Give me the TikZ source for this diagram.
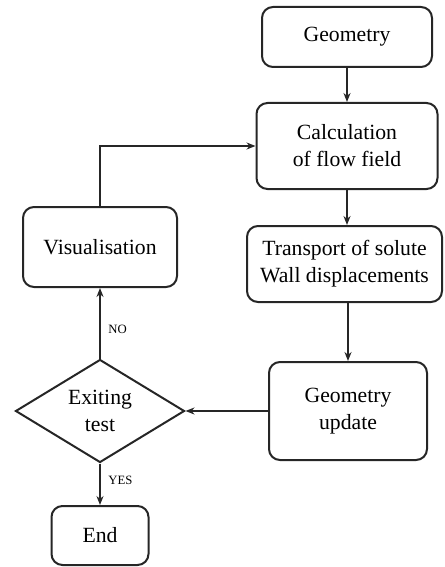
\documentclass[tikz,border=0pt]{standalone}
\usepackage{fontspec}
\setmainfont{Liberation Serif}
\usetikzlibrary{shapes.geometric,arrows.meta}

\begin{document}
\begin{tikzpicture}[x=1pt,y=1pt,
	line width=2pt, draw=black!85,
	font=\fontsize{21.7}{27}\selectfont,
	box/.style={draw, rounded corners=11pt, align=center, inner sep=0pt},
	test/.style={draw, diamond, aspect=1.64, align=center, inner sep=0pt, minimum width=169pt, minimum height=103pt},
	flow/.style={-{Stealth[length=9pt,width=7pt]}},
	tag/.style={font=\fontsize{12.7}{14}\selectfont}]
			\useasboundingbox (0,0) rectangle (444,-567);
			\node (geo) at (347,-37)[box, minimum width=170pt, minimum height=60pt]{Geometry};
			\node (calc) at (347,-146)[box, minimum width=181pt, minimum height=86pt]{Calculation\\of flow field};
			\node (trans) at (344.5,-264)[box, minimum width=195pt, minimum height=76pt]{Transport of solute\\Wall displacements};
			\node (upd) at (348,-411)[box, minimum width=158pt, minimum height=98pt]{Geometry\\update};
			\node (exit) at (100,-411)[test]{Exiting\\test};
			\node (vis) at (100,-247)[box, minimum width=154pt, minimum height=80pt]{Visualisation};
			\node (end) at (100,-535.5)[box, minimum width=97pt, minimum height=59pt]{End};
			
			\draw[flow] (geo.south) -- (geo.south |- calc.north);
			\draw[flow] (calc.south) -- (calc.south |- trans.north);
			\draw[flow] (upd.north |- trans.south) -- (upd.north);
			\draw[flow] (upd.west) -- (exit.east);
			\draw[flow] (exit.north) -- (vis.south) node[tag, pos=.41, right=4pt]{NO};
			\draw[flow] (exit.south) -- (end.north) node[tag, pos=.4, right=4pt]{YES};
			\draw[flow] (vis.north) |- (calc.west);
		\end{tikzpicture}
\end{document}
